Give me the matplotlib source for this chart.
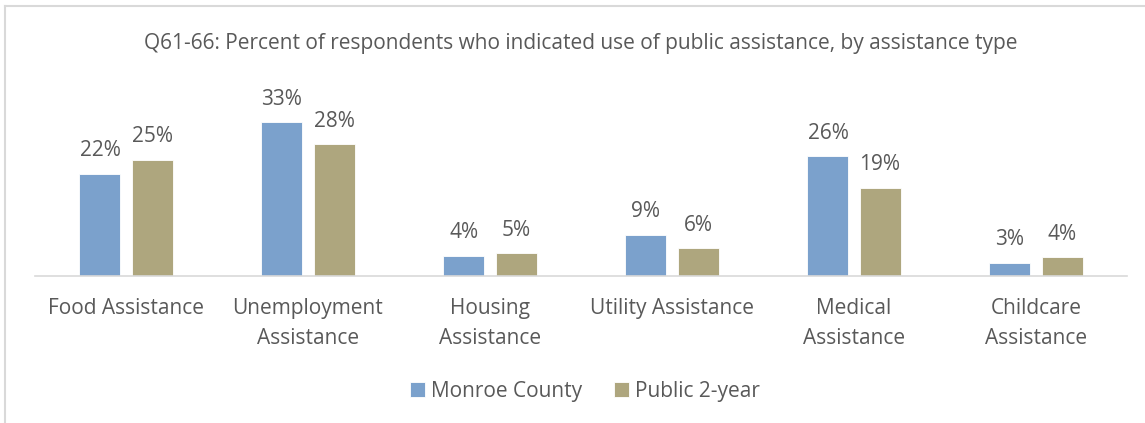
import matplotlib.pyplot as plt
from matplotlib.lines import Line2D
import numpy as np

plt.rcParams['font.family'] = ['Open Sans', 'DejaVu Sans']

categories = ['Food Assistance', 'Unemployment\nAssistance', 'Housing\nAssistance',
              'Utility Assistance', 'Medical\nAssistance', 'Childcare\nAssistance']
monroe = [22.0, 33.0, 4.35, 8.85, 25.7, 2.85]
public2 = [25.0, 28.3, 4.9, 6.0, 19.0, 4.0]
series_names = ['Monroe County', 'Public 2-year']

blue = '#7BA1CC'
olive = '#AEA67E'
txt = '#595959'

W, H = 1145, 423
fig = plt.figure(figsize=(W / 100, H / 100), dpi=100)

# axes placed in pixel coords of the reference
ax = fig.add_axes([35 / W, (H - 276) / H, 1092 / W, 163 / H])
x = np.arange(len(categories))
off = 0.143
bw = 0.225
b1 = ax.bar(x - off, monroe, bw, color=blue, edgecolor='white', linewidth=0.6, label=series_names[0])
b2 = ax.bar(x + off, public2, bw, color=olive, edgecolor='white', linewidth=0.6, label=series_names[1])

for bars, vals in [(b1, monroe), (b2, public2)]:
    for r, v in zip(bars, vals):
        ax.annotate('%.0f%%' % v, (r.get_x() + r.get_width() / 2, v),
                    xytext=(0, 12.5), textcoords='offset points',
                    ha='center', va='baseline', fontsize=15, color=txt)

ax.set_xlim(-0.5, len(categories) - 0.5)
ax.set_ylim(0, 35)
ax.set_yticks([])
ax.set_xticks(x)
ax.set_xticklabels(categories, fontsize=15, color=txt, linespacing=1.55)
ax.tick_params(axis='x', length=0, pad=16)
for s in ['top', 'right', 'left']:
    ax.spines[s].set_visible(False)
ax.spines['bottom'].set_color('#D9D9D9')
ax.spines['bottom'].set_linewidth(1.2)

fig.text(581 / W, 1 - 43 / H,
         'Q61-66: Percent of respondents who indicated use of public assistance, by assistance type',
         ha='center', va='center', fontsize=15, color=txt)

fig.legend(handles=[b1, b2], labels=series_names, loc='center', bbox_to_anchor=(585 / W, 1 - 391 / H),
           ncol=2, frameon=False, fontsize=15, labelcolor=txt,
           handlelength=0.72, handleheight=0.72, handletextpad=0.3, columnspacing=1.5)

# chart border (only top and left visible in the crop)
fig.add_artist(Line2D([5 / W, 5 / W], [0, 1 - 6 / H], transform=fig.transFigure, color='#D9D9D9', lw=1.5))
fig.add_artist(Line2D([5 / W, 1], [1 - 6 / H, 1 - 6 / H], transform=fig.transFigure, color='#D9D9D9', lw=1.5))

fig.savefig('out.png', dpi=100)
